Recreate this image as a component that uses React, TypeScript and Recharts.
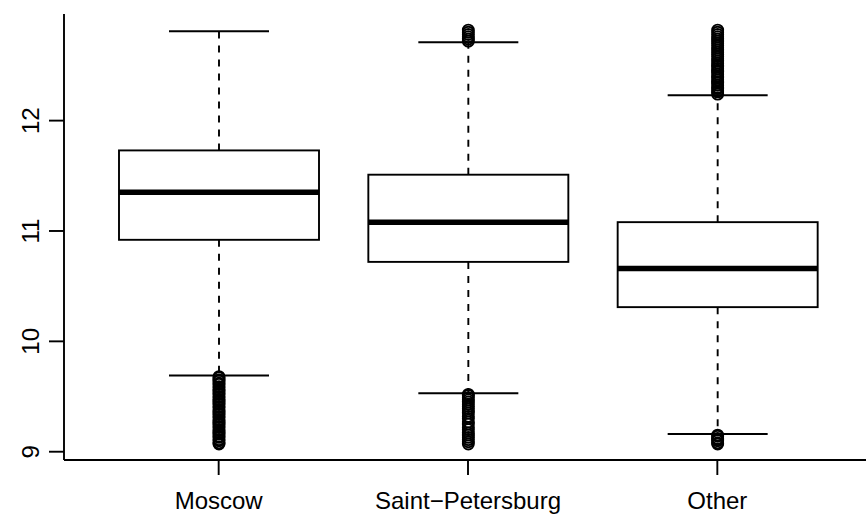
import { ComposedChart, Bar, XAxis, YAxis } from 'recharts'

// box statistics per city
const categories = ['Moscow', 'Saint\u2212Petersburg', 'Other']
const lowerWhisker = [9.69, 9.53, 9.16]
const q1 = [10.92, 10.72, 10.31]
const medians = [11.35, 11.08, 10.66]
const q3 = [11.73, 11.51, 11.08]
const upperWhisker = [12.81, 12.71, 12.23]

const moscowOutliers = [
  9.07, 9.08, 9.1, 9.11, 9.13, 9.14, 9.16, 9.17, 9.19, 9.2, 9.22, 9.23, 9.25, 9.26, 9.28,
  9.29, 9.31, 9.32, 9.34, 9.35, 9.37, 9.38, 9.4, 9.41, 9.43, 9.44, 9.46, 9.47, 9.49, 9.5,
  9.52, 9.53, 9.55, 9.56, 9.58, 9.59, 9.61, 9.62, 9.64, 9.65, 9.67, 9.68,
]
const spbOutliers = [
  9.07, 9.09, 9.11, 9.13, 9.15, 9.17, 9.2, 9.22, 9.25, 9.27, 9.3, 9.32, 9.35, 9.37, 9.39,
  9.41, 9.43, 9.45, 9.47, 9.49, 9.51, 9.52,
  12.72, 12.74, 12.76, 12.78, 12.8, 12.82,
]
const otherOutliers = [
  9.07, 9.08, 9.1, 9.11, 9.12, 9.14, 9.15,
  12.24, 12.26, 12.27, 12.29, 12.3, 12.32, 12.34, 12.35, 12.37, 12.39, 12.4, 12.42, 12.44,
  12.45, 12.47, 12.49, 12.5, 12.52, 12.54, 12.56, 12.58, 12.6, 12.62, 12.64, 12.66, 12.68,
  12.7, 12.72, 12.74, 12.76, 12.78, 12.8, 12.82,
]
const outliers = [moscowOutliers, spbOutliers, otherOutliers]

const yTicks = [9, 10, 11, 12]
const yDomain = [8.925, 12.966]

const data = categories.map((name, i) => ({
  name,
  range: [lowerWhisker[i], upperWhisker[i]],
  q1: q1[i],
  median: medians[i],
  q3: q3[i],
  outliers: outliers[i],
}))

const FONT = '"Liberation Sans", Arial, Helvetica, sans-serif'
const LW = 1.9

function BoxShape(props: any) {
  const { x, y, width, height } = props
  const p = props.payload ?? props
  const [lo, hi] = p.range
  // map a value to pixels using the bar's own scaled extent
  const py = (v: number) => y + ((hi - v) / (hi - lo)) * height
  const cx = x + width / 2
  const capHalf = width / 4
  return (
    <g>
      <line x1={cx} x2={cx} y1={py(p.q3)} y2={py(hi)} stroke="#000" strokeWidth={LW} strokeDasharray="7 7" />
      <line x1={cx} x2={cx} y1={py(p.q1)} y2={py(lo)} stroke="#000" strokeWidth={LW} strokeDasharray="7 7" />
      <line x1={cx - capHalf} x2={cx + capHalf} y1={py(hi)} y2={py(hi)} stroke="#000" strokeWidth={LW} />
      <line x1={cx - capHalf} x2={cx + capHalf} y1={py(lo)} y2={py(lo)} stroke="#000" strokeWidth={LW} />
      <rect x={x} y={py(p.q3)} width={width} height={py(p.q1) - py(p.q3)} fill="#fff" stroke="#000" strokeWidth={LW} />
      <line x1={x} x2={x + width} y1={py(p.median)} y2={py(p.median)} stroke="#000" strokeWidth={5.5} />
      {p.outliers.map((v: number, k: number) => (
        <circle key={k} cx={cx} cy={py(v)} r={5.5} fill="none" stroke="#000" strokeWidth={1.9} />
      ))}
    </g>
  )
}

function XTick(props: any) {
  const { x, y, payload } = props
  return (
    <text x={x} y={y + 32} textAnchor="middle" fontSize={24} fontFamily={FONT} fill="#000">
      {payload.value}
    </text>
  )
}

function YTick(props: any) {
  const { y, payload } = props
  const bx = 39
  return (
    <text x={bx} y={y} transform={`rotate(-90, ${bx}, ${y})`} textAnchor="middle" fontSize={24} fontFamily={FONT} fill="#000">
      {payload.value}
    </text>
  )
}

export default function App() {
  return (
    <div style={{ position: 'absolute', left: 0, top: 0, width: 866, height: 516, overflow: 'hidden', background: '#fff' }}>
      <ComposedChart width={880} height={516} data={data} margin={{ top: 14, right: 8, bottom: 0, left: 0 }}>
        <XAxis
          dataKey="name"
          type="category"
          height={56}
          padding={{ left: 30, right: 30 }}
          tickSize={15}
          tickLine={{ stroke: '#000', strokeWidth: LW }}
          axisLine={{ stroke: '#000', strokeWidth: LW }}
          tick={<XTick />}
        />
        <XAxis
          xAxisId="top"
          dataKey="name"
          orientation="top"
          height={0}
          tick={false}
          tickLine={false}
          axisLine={{ stroke: '#000', strokeWidth: LW }}
        />
        <YAxis
          type="number"
          domain={yDomain}
          ticks={yTicks}
          width={64}
          tickSize={15}
          tickLine={{ stroke: '#000', strokeWidth: LW }}
          axisLine={{ stroke: '#000', strokeWidth: LW }}
          tick={<YTick />}
          allowDataOverflow
        />
        <Bar dataKey="range" barSize={200} shape={<BoxShape />} isAnimationActive={false} />
      </ComposedChart>
    </div>
  )
}
